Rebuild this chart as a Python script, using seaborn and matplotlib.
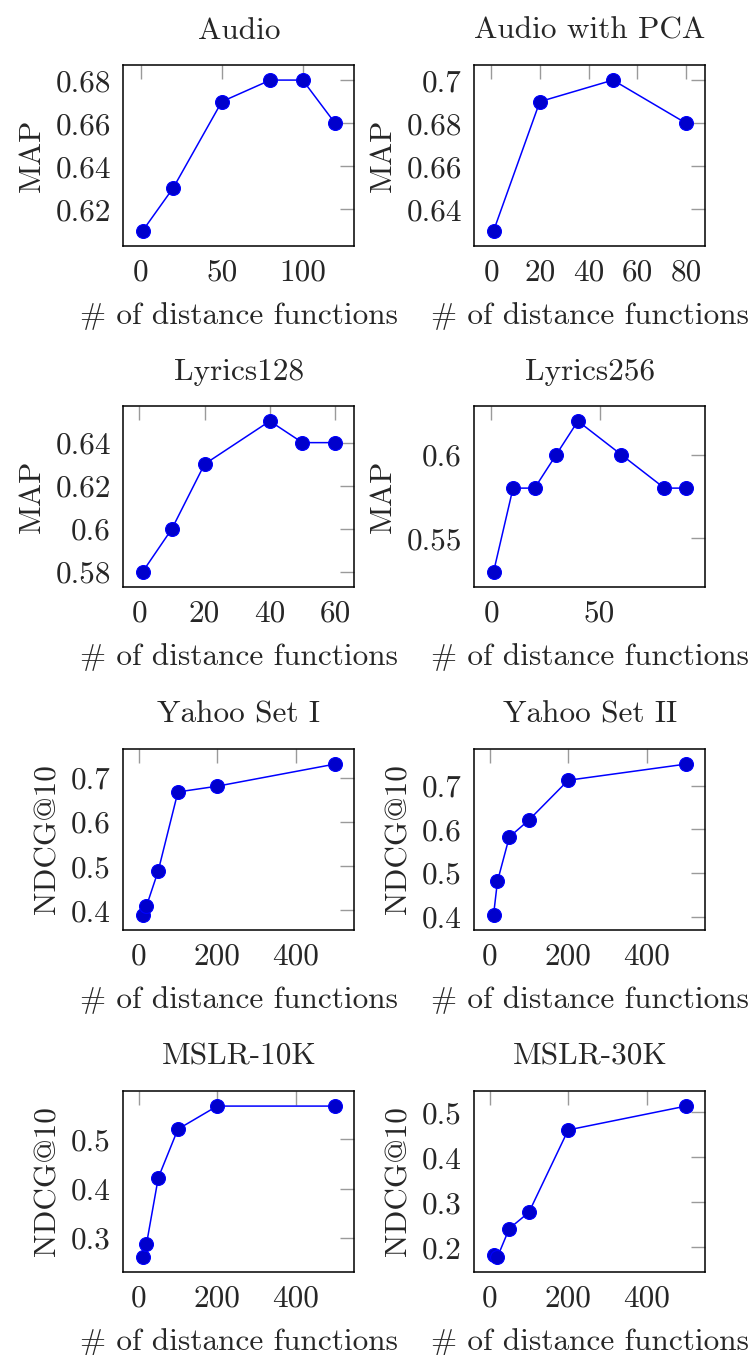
import matplotlib
matplotlib.use("Agg")
import matplotlib.pyplot as plt
import seaborn as sns
from matplotlib.ticker import MultipleLocator, FuncFormatter

# ---- data ----
titles = ["Audio", "Audio with PCA", "Lyrics128", "Lyrics256",
          "Yahoo Set I", "Yahoo Set II", "MSLR-10K", "MSLR-30K"]
ylabels = ["MAP", "MAP", "MAP", "MAP", "NDCG@10", "NDCG@10", "NDCG@10", "NDCG@10"]
xlabel = "# of distance functions"

audio_x = [1, 20, 50, 80, 100, 120]
audio_y = [0.61, 0.63, 0.67, 0.68, 0.68, 0.66]
pca_x = [1, 20, 50, 80]
pca_y = [0.63, 0.69, 0.70, 0.68]
lyr128_x = [1, 10, 20, 40, 50, 60]
lyr128_y = [0.58, 0.60, 0.63, 0.65, 0.64, 0.64]
lyr256_x = [1, 10, 20, 30, 40, 60, 80, 90]
lyr256_y = [0.53, 0.58, 0.58, 0.60, 0.62, 0.60, 0.58, 0.58]
yahoo1_x = [10, 20, 50, 100, 200, 500]
yahoo1_y = [0.390, 0.410, 0.490, 0.668, 0.681, 0.731]
yahoo2_x = [10, 20, 50, 100, 200, 500]
yahoo2_y = [0.404, 0.481, 0.582, 0.621, 0.712, 0.749]
mslr10_x = [10, 20, 50, 100, 200, 500]
mslr10_y = [0.261, 0.287, 0.422, 0.521, 0.568, 0.568]
mslr30_x = [10, 20, 50, 100, 200, 500]
mslr30_y = [0.184, 0.179, 0.242, 0.278, 0.461, 0.514]

xs = [audio_x, pca_x, lyr128_x, lyr256_x, yahoo1_x, yahoo2_x, mslr10_x, mslr30_x]
ys = [audio_y, pca_y, lyr128_y, lyr256_y, yahoo1_y, yahoo2_y, mslr10_y, mslr30_y]
x_steps = [50, 20, 20, 50, 200, 200, 200, 200]
y_steps = [0.02, 0.02, 0.02, 0.05, 0.1, 0.1, 0.1, 0.1]

# ---- style ----
sns.set_theme(style="white")
plt.rcParams["font.family"] = ["cmr10", "DejaVu Serif"]
plt.rcParams["mathtext.fontset"] = "cm"
plt.rcParams["axes.formatter.use_mathtext"] = True
FS = 22.5

W, H = 751, 1355
fig = plt.figure(figsize=(W / 100, H / 100), dpi=100)

col_left = [123.3, 474.3]
ax_w = 231
row_top = [65, 406, 749, 1091]
ax_h = 181

fmt = FuncFormatter(lambda v, p: ("%g" % round(v, 6)))

for i in range(8):
    r, c = divmod(i, 2)
    ax = fig.add_axes([col_left[c] / W, 1 - (row_top[r] + ax_h) / H, ax_w / W, ax_h / H])
    sns.lineplot(x=xs[i], y=ys[i], ax=ax, color=(0, 0, 1), linewidth=1.1,
                 marker="o", markersize=10, markerfacecolor=(0, 0, 0.8),
                 markeredgecolor=(0, 0, 1), markeredgewidth=0.8)
    ax.margins(0.1)
    ax.xaxis.set_major_locator(MultipleLocator(x_steps[i]))
    ax.yaxis.set_major_locator(MultipleLocator(y_steps[i]))
    ax.xaxis.set_major_formatter(fmt)
    ax.yaxis.set_major_formatter(fmt)
    ax.tick_params(direction="in", top=True, right=True, length=10, width=1,
                   color="#9a9a9a", labelsize=FS, pad=9)
    for s in ax.spines.values():
        s.set_color("black")
        s.set_linewidth(1.1)
    ax.set_title(titles[i], fontsize=FS, pad=19)
    ax.set_xlabel(xlabel, fontsize=FS, labelpad=11)
    ax.set_ylabel(ylabels[i], fontsize=FS, labelpad=7)
    ax.grid(False)

fig.savefig("out.png", dpi=100)
